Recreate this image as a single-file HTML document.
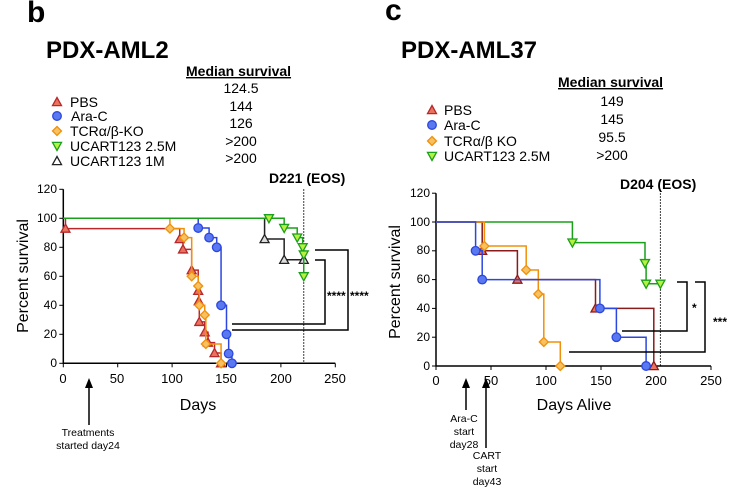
<!DOCTYPE html>
<html><head><meta charset="utf-8"><style>
body{margin:0;background:#fff;}
svg{display:block;font-family:"Liberation Sans",Arial,sans-serif;}
</style></head><body>
<svg id="s" width="736" height="495" viewBox="0 0 736 495" xmlns="http://www.w3.org/2000/svg">
<rect width="736" height="495" fill="#fff"/>
<text x="27" y="22" font-size="30" font-weight="bold">b</text>
<text x="46" y="58" font-size="24" font-weight="bold">PDX-AML2</text>
<text x="186" y="76" font-size="14" font-weight="bold" text-decoration="underline">Median survival</text>
<g font-size="14" text-anchor="middle">
<text x="241" y="93">124.5</text><text x="241" y="111">144</text><text x="241" y="128">126</text><text x="241" y="146">&gt;200</text><text x="241" y="163">&gt;200</text>
</g>
<g font-size="14">
<text x="70" y="107">PBS</text><text x="71" y="121">Ara-C</text><text x="70" y="136">TCRα/β-KO</text><text x="70" y="151">UCART123 2.5M</text><text x="70" y="166">UCART123 1M</text>
</g>
<text x="385" y="20" font-size="30" font-weight="bold">c</text>
<text x="401" y="58" font-size="24" font-weight="bold">PDX-AML37</text>
<text x="558" y="87" font-size="14" font-weight="bold" text-decoration="underline">Median survival</text>
<g font-size="14" text-anchor="middle">
<text x="612" y="106">149</text><text x="612" y="124">145</text><text x="612" y="142">95.5</text><text x="612" y="160">&gt;200</text>
</g>
<g font-size="14">
<text x="444" y="115">PBS</text><text x="444" y="130">Ara-C</text><text x="444" y="146">TCRα/β KO</text><text x="444" y="161">UCART123 2.5M</text>
</g>
<text x="269" y="183" font-size="14" font-weight="bold">D221 (EOS)</text>
<text x="620" y="189" font-size="14" font-weight="bold">D204 (EOS)</text>
<text transform="translate(28,276) rotate(-90)" font-size="16" text-anchor="middle">Percent survival</text>
<text transform="translate(400,282) rotate(-90)" font-size="16" text-anchor="middle">Percent survival</text>
<g font-size="12" text-anchor="end">
<text x="57" y="367">0</text><text x="57" y="338">20</text><text x="57" y="309">40</text><text x="57" y="280">60</text><text x="57" y="251">80</text><text x="57" y="222">100</text><text x="57" y="193">120</text>
<text x="430" y="370">0</text><text x="430" y="341">20</text><text x="430" y="312">40</text><text x="430" y="283">60</text><text x="430" y="254">80</text><text x="430" y="226">100</text><text x="430" y="197">120</text>
</g>
<g font-size="13" text-anchor="middle">
<text x="63" y="383">0</text><text x="117" y="383">50</text><text x="172" y="383">100</text><text x="226" y="383">150</text><text x="281" y="383">200</text><text x="335" y="383">250</text>
<text x="436" y="385">0</text><text x="491" y="385">50</text><text x="546" y="385">100</text><text x="601" y="385">150</text><text x="656" y="385">200</text><text x="711" y="385">250</text>
</g>
<text x="198" y="410" font-size="16" text-anchor="middle">Days</text>
<text x="574" y="410" font-size="16" text-anchor="middle">Days Alive</text>
<g font-size="10.5" text-anchor="middle">
<text x="88" y="436">Treatments</text><text x="88" y="449">started day24</text>
<text x="464" y="422">Ara-C</text><text x="464" y="435">start</text><text x="464" y="448">day28</text>
<text x="487" y="459">CART</text><text x="487" y="472">start</text><text x="487" y="485">day43</text>
</g>
<g stroke="#000" stroke-width="1.5" fill="#000">
<line x1="89" y1="382" x2="89" y2="425"/><path d="M85,388 L89,378 L93,388Z" stroke="none"/>
<line x1="466" y1="382" x2="466" y2="410"/><path d="M462,388 L466,378 L470,388Z" stroke="none"/>
<line x1="486" y1="382" x2="486" y2="448"/><path d="M482,388 L486,378 L490,388Z" stroke="none"/>
</g>
<g font-size="12" font-weight="bold">
<text x="327" y="300">****</text><text x="350" y="300">****</text>
<text x="692" y="312">*</text><text x="713" y="326">***</text>
</g>
<g id="plots"></g>
</svg>
<script>
var NS="http://www.w3.org/2000/svg",g=document.getElementById('plots');
function el(t,a){var e=document.createElementNS(NS,t);for(var k in a)e.setAttribute(k,a[k]);g.appendChild(e);return e;}
function chart(X,Y){
 el('path',{d:'M'+X(0)+','+Y(120)+'V'+Y(0)+'H'+X(250),stroke:'#000','stroke-width':1.5,fill:'none'});
 for(var p=0;p<=120;p+=20)el('line',{x1:X(0)-4,x2:X(0),y1:Y(p),y2:Y(p),stroke:'#000'});
 for(var d=0;d<=250;d+=50)el('line',{x1:X(d),x2:X(d),y1:Y(0),y2:Y(0)+4,stroke:'#000'});
}
function marker(type,x,y,st,fi){
 var r=4.5;
 if(type=='tri')el('path',{d:'M'+x+','+(y-r)+'L'+(x+r)+','+(y+r*0.8)+'L'+(x-r)+','+(y+r*0.8)+'Z',stroke:st,fill:fi,'stroke-width':1.3});
 else if(type=='dtri')el('path',{d:'M'+x+','+(y+r)+'L'+(x+r)+','+(y-r*0.8)+'L'+(x-r)+','+(y-r*0.8)+'Z',stroke:st,fill:fi,'stroke-width':1.3});
 else if(type=='circ')el('circle',{cx:x,cy:y,r:4.3,stroke:st,fill:fi,'stroke-width':1.3});
 else el('path',{d:'M'+x+','+(y-4.5)+'L'+(x+4.5)+','+y+'L'+x+','+(y+4.5)+'L'+(x-4.5)+','+y+'Z',stroke:st,fill:fi,'stroke-width':1.3});
}
function series(X,Y,pts,end,st,fi,type){
 var d='M'+X(0)+','+Y(100);
 pts.forEach(function(q){d+='H'+X(q[0])+'V'+Y(q[1]);});
 if(end)d+='H'+X(end);
 el('path',{d:d,stroke:st,fill:'none','stroke-width':1.5});
 pts.forEach(function(q){marker(type,X(q[0]),Y(q[1]),st,fi);});
}
var R='#b8282a',Rf='#e8735e',B='#2b47e0',Bf='#5a78f0',O='#f0900a',Of='#f7c060',G='#1aa01a',Gf='#b8f040',K='#222',Kf='#ddd';
var X1=function(d){return 63.3+d*1.088},Y1=function(p){return 363.3-p*1.45};
chart(X1,Y1);
el('line',{x1:X1(221),x2:X1(221),y1:Y1(120),y2:Y1(0),stroke:'#000','stroke-dasharray':'1.5,1.5'});
series(X1,Y1,[[2,92.9],[107,85.7],[110,78.6],[118,64.3],[124,50],[124.5,42.9],[125,28.6],[130,21.4],[133,14.3],[139,7.1],[145,0]],0,R,Rf,'tri');
series(X1,Y1,[[98,92.9],[111,86.7],[118,60],[124,53.3],[125,40],[130,33.3],[131,13.3],[145,0]],0,O,Of,'dia');
series(X1,Y1,[[124,93.3],[134,86.7],[141,80],[145,40],[150,20],[152,6.7],[155,0]],0,B,Bf,'circ');
series(X1,Y1,[[185,85.7],[203,71.4],[221,71.4]],0,K,Kf,'tri');
series(X1,Y1,[[189,100],[203,93.3],[215,86.7],[220,80],[221,75],[221,60]],0,G,Gf,'dtri');
el('path',{d:'M232,324H325V260H315',stroke:'#000','stroke-width':1.5,fill:'none'});
el('path',{d:'M232,330H348V250H315',stroke:'#000','stroke-width':1.5,fill:'none'});
var X2=function(d){return 436+d*1.1},Y2=function(p){return 366-p*1.44};
chart(X2,Y2);
el('line',{x1:X2(204),x2:X2(204),y1:Y2(120),y2:Y2(0),stroke:'#000','stroke-dasharray':'1.5,1.5'});
series(X2,Y2,[[124,85.7],[190,71.4],[191,57.1],[204,57.1]],0,G,Gf,'dtri');
series(X2,Y2,[[42,80],[74,60],[145,40],[198,0]],0,'#8b1a1a',Rf,'tri');
series(X2,Y2,[[44,83.3],[82,66.7],[93,50],[98,16.7],[113,0]],0,O,Of,'dia');
series(X2,Y2,[[36,80],[42,60],[149,40],[164,20],[191,0]],0,B,Bf,'circ');
el('path',{d:'M622,331H687V282H677',stroke:'#000','stroke-width':1.5,fill:'none'});
el('path',{d:'M569,352H705V282H695',stroke:'#000','stroke-width':1.5,fill:'none'});
marker('tri',57,102,R,Rf);marker('circ',57,116,B,Bf);marker('dia',57,131,O,Of);marker('dtri',57,146,G,Gf);marker('tri',57,161,K,'#fff');
marker('tri',432,110,R,Rf);marker('circ',432,125,B,Bf);marker('dia',432,141,O,Of);marker('dtri',432,156,G,Gf);
</script>
</body></html>
